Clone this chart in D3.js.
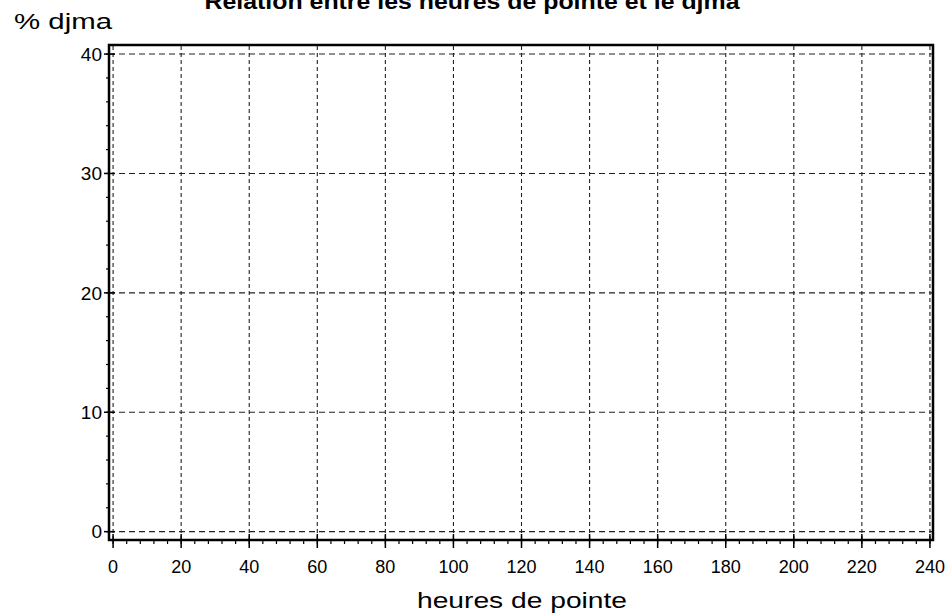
<!DOCTYPE html>
<html><head><meta charset="utf-8">
<script src="https://cdn.jsdelivr.net/npm/d3@7"></script>
<style>body{margin:0;background:#fff}svg{display:block}text{font-family:"Liberation Sans",Arial,sans-serif;fill:#000}</style>
</head><body><svg id="c" width="946" height="616"></svg>
<script>
const title = "Relation entre les heures de pointe et le djma";
const xLabel = "heures de pointe";
const yLabel = "% djma";
const xTicks = [0,20,40,60,80,100,120,140,160,180,200,220,240];
const yTicks = [0,10,20,30,40];
const xMinor = d3.range(0,241,4);
const yMinor = d3.range(0,41,2);
const points = []; // no data points plotted

const svg = d3.select("#c");
const x = d3.scaleLinear().domain([-1.2,240.9]).range([109,933]);
const y = d3.scaleLinear().domain([-0.7,40.76]).range([540,45]);

// grid
svg.append("g").selectAll("line").data(yTicks).join("line")
  .attr("x1",x(-1.2)).attr("x2",x(240.9)).attr("y1",d=>y(d)).attr("y2",d=>y(d))
  .attr("stroke","#222").attr("stroke-width",1.1).attr("stroke-dasharray","6,4");
svg.append("g").selectAll("line").data(xTicks).join("line")
  .attr("x1",d=>x(d)).attr("x2",d=>x(d)).attr("y1",y(-0.7)).attr("y2",y(40.76))
  .attr("stroke","#222").attr("stroke-width",1.1).attr("stroke-dasharray","4,3");

// frame
svg.append("rect").attr("x",x(-1.2)).attr("y",y(40.76))
  .attr("width",x(240.9)-x(-1.2)).attr("height",y(-0.7)-y(40.76))
  .attr("fill","none").attr("stroke","#000").attr("stroke-width",2.5);

// x ticks
svg.append("g").selectAll("line").data(xMinor).join("line")
  .attr("x1",d=>x(d)).attr("x2",d=>x(d)).attr("y1",y(-0.7)).attr("y2",y(-0.7)+4)
  .attr("stroke","#000").attr("stroke-width",1.2);
svg.append("g").selectAll("line").data(xTicks).join("line")
  .attr("x1",d=>x(d)).attr("x2",d=>x(d)).attr("y1",y(-0.7)-6).attr("y2",y(-0.7)+8)
  .attr("stroke","#000").attr("stroke-width",1.5);
svg.append("g").selectAll("text").data(xTicks).join("text")
  .attr("x",d=>x(d)).attr("y",573).attr("text-anchor","middle")
  .attr("font-size",18).text(d=>d);

// y ticks
svg.append("g").selectAll("line").data(yMinor).join("line")
  .attr("x1",x(-1.2)-3).attr("x2",x(-1.2)).attr("y1",d=>y(d)).attr("y2",d=>y(d))
  .attr("stroke","#000").attr("stroke-width",1.2);
svg.append("g").selectAll("line").data(yTicks).join("line")
  .attr("x1",x(-1.2)-5).attr("x2",x(-1.2)+6).attr("y1",d=>y(d)).attr("y2",d=>y(d))
  .attr("stroke","#000").attr("stroke-width",1.5);
svg.append("g").selectAll("text").data(yTicks).join("text")
  .attr("x",102).attr("y",d=>y(d)).attr("dy","0.36em").attr("text-anchor","end")
  .attr("font-size",19).text(d=>d);

// points (none)
svg.append("g").selectAll("circle").data(points).join("circle")
  .attr("cx",d=>x(d[0])).attr("cy",d=>y(d[1])).attr("r",2);

// labels
svg.append("text").attr("x",472).attr("y",9).attr("text-anchor","middle")
  .attr("font-size",22).attr("font-weight","bold")
  .attr("textLength",535).attr("lengthAdjust","spacingAndGlyphs").text(title);
svg.append("text").attr("x",14).attr("y",29).attr("font-size",22)
  .attr("textLength",98).attr("lengthAdjust","spacingAndGlyphs").text(yLabel);
svg.append("text").attr("x",522).attr("y",608).attr("text-anchor","middle")
  .attr("font-size",22)
  .attr("textLength",210).attr("lengthAdjust","spacingAndGlyphs").text(xLabel);
</script></body></html>
